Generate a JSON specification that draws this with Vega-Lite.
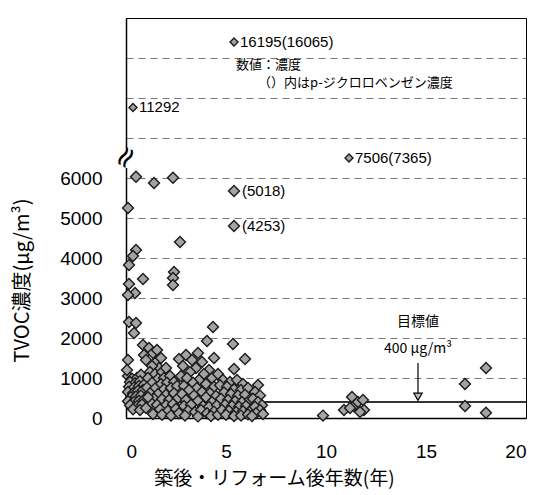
{
  "$schema": "https://vega.github.io/schema/vega-lite/v6.json",
  "width": 400,
  "height": 400,
  "autosize": {"type": "none"},
  "padding": {"left": 126, "top": 18, "right": 18, "bottom": 77},
  "background": "white",
  "config": {"view": {"stroke": "#000", "strokeWidth": 1}},
  "datasets": {
    "pts": [
      {"x":0.5,"y":6100},{"x":1.4,"y":5875},{"x":2.35,"y":6025},{"x":0.1,"y":5250},{"x":5.4,"y":5675},{"x":5.4,"y":4800},{"x":2.7,"y":4400},{"x":0.5,"y":4200},{"x":0.35,"y":4050},{"x":0.15,"y":3825},{"x":0.85,"y":3475},{"x":2.4,"y":3650},{"x":2.35,"y":3500},{"x":2.35,"y":3325},{"x":0.15,"y":3350},{"x":0.45,"y":3125},{"x":0.1,"y":3075},
      {"x":0.15,"y":2400},{"x":0.5,"y":2375},{"x":0.4,"y":2125},{"x":4.35,"y":2275},{"x":4.05,"y":1925},{"x":5.35,"y":1850},{"x":0.1,"y":1450},
      {"x":0.1,"y":1050},{"x":0.3,"y":980},{"x":0.55,"y":1000},{"x":0.75,"y":1080},{"x":0.2,"y":900},{"x":0.45,"y":870},{"x":0.7,"y":920},{"x":0.15,"y":780},{"x":0.4,"y":760},{"x":0.65,"y":800},{"x":0.9,"y":830},{"x":0.1,"y":650},{"x":0.35,"y":620},{"x":0.6,"y":680},{"x":0.85,"y":700},{"x":0.25,"y":520},{"x":0.5,"y":540},{"x":0.75,"y":560},{"x":0.1,"y":420},{"x":0.4,"y":400},{"x":0.65,"y":430},{"x":0.9,"y":460},{"x":0.2,"y":320},{"x":0.55,"y":300},{"x":0.8,"y":340},{"x":0.35,"y":220},{"x":0.7,"y":200},{"x":0.05,"y":1200},
      {"x":0.85,"y":1825},{"x":1.15,"y":1750},{"x":0.9,"y":1575},{"x":1.35,"y":1625},{"x":1.0,"y":1450},{"x":1.5,"y":1400},{"x":1.65,"y":1250},{"x":1.3,"y":1300},{"x":1.75,"y":1500},{"x":1.55,"y":1700},{"x":1.2,"y":1150},{"x":1.45,"y":1100},{"x":1.8,"y":1150},{"x":2.0,"y":1250},{"x":1.1,"y":1000},{"x":1.6,"y":980},{"x":1.9,"y":1000},{"x":2.2,"y":1050},{"x":1.3,"y":880},{"x":1.75,"y":850},{"x":2.05,"y":880},{"x":2.4,"y":900},{"x":1.05,"y":760},{"x":1.45,"y":740},{"x":1.9,"y":720},{"x":2.25,"y":750},{"x":2.55,"y":800},{"x":1.2,"y":620},{"x":1.6,"y":600},{"x":2.0,"y":580},{"x":2.4,"y":620},{"x":1.4,"y":480},{"x":1.8,"y":470},{"x":2.15,"y":450},{"x":2.6,"y":500},{"x":1.25,"y":380},{"x":1.55,"y":330},{"x":2.0,"y":320},{"x":2.35,"y":350},{"x":1.7,"y":220},{"x":2.1,"y":180},{"x":2.5,"y":230},{"x":1.35,"y":100},{"x":1.8,"y":80},{"x":2.25,"y":60},{"x":2.65,"y":120},{"x":1.0,"y":250},{"x":1.1,"y":520},
      {"x":2.65,"y":1475},{"x":3.0,"y":1575},{"x":3.6,"y":1625},{"x":3.3,"y":1450},{"x":3.8,"y":1400},{"x":2.85,"y":1300},{"x":3.5,"y":1250},{"x":4.15,"y":1200},{"x":3.2,"y":1150},{"x":3.9,"y":1100},{"x":2.75,"y":1050},{"x":3.05,"y":1000},{"x":3.65,"y":950},{"x":4.3,"y":1000},{"x":3.35,"y":880},{"x":4.0,"y":850},{"x":2.9,"y":800},{"x":3.55,"y":750},{"x":4.4,"y":780},{"x":3.15,"y":700},{"x":3.8,"y":650},{"x":4.2,"y":620},{"x":2.8,"y":600},{"x":3.4,"y":560},{"x":4.0,"y":520},{"x":4.5,"y":550},{"x":3.0,"y":450},{"x":3.6,"y":430},{"x":4.3,"y":400},{"x":2.9,"y":300},{"x":3.25,"y":330},{"x":3.85,"y":300},{"x":4.15,"y":280},{"x":4.55,"y":320},{"x":3.1,"y":180},{"x":3.45,"y":150},{"x":3.75,"y":200},{"x":4.05,"y":120},{"x":4.4,"y":160},{"x":2.95,"y":60},{"x":3.6,"y":40},{"x":4.25,"y":50},{"x":4.6,"y":80},
      {"x":4.4,"y":1500},{"x":5.95,"y":1475},{"x":5.4,"y":1225},{"x":4.6,"y":1100},{"x":4.85,"y":950},{"x":5.2,"y":900},{"x":5.55,"y":950},{"x":5.85,"y":850},{"x":4.7,"y":820},{"x":5.05,"y":780},{"x":5.4,"y":720},{"x":5.75,"y":700},{"x":6.1,"y":750},{"x":4.9,"y":640},{"x":5.25,"y":600},{"x":5.6,"y":560},{"x":5.95,"y":580},{"x":4.75,"y":480},{"x":5.1,"y":450},{"x":5.45,"y":420},{"x":5.8,"y":400},{"x":6.2,"y":460},{"x":4.95,"y":330},{"x":5.3,"y":300},{"x":5.65,"y":280},{"x":6.0,"y":300},{"x":4.8,"y":200},{"x":5.15,"y":180},{"x":5.5,"y":150},{"x":5.85,"y":170},{"x":6.25,"y":200},{"x":5.0,"y":80},{"x":5.4,"y":50},{"x":5.75,"y":60},{"x":6.1,"y":90},
      {"x":6.6,"y":825},{"x":6.45,"y":650},{"x":6.7,"y":560},{"x":6.35,"y":480},{"x":6.6,"y":400},{"x":6.8,"y":320},{"x":6.45,"y":280},{"x":6.7,"y":200},{"x":6.5,"y":120},{"x":6.85,"y":100},{"x":6.3,"y":50},
      {"x":9.85,"y":60},{"x":10.9,"y":200},{"x":11.3,"y":525},{"x":11.4,"y":300},{"x":11.6,"y":400},{"x":11.85,"y":450},{"x":11.9,"y":200},{"x":11.7,"y":150},{"x":11.2,"y":250},
      {"x":16.95,"y":850},{"x":16.95,"y":300},{"x":18.0,"y":1250},{"x":18.0,"y":130}
    ],
    "big": [
      {"x":5.4,"y":16195,"label":"16195(16065)"},
      {"x":0.35,"y":11292,"label":"11292"},
      {"x":11.15,"y":7506,"label":"7506(7365)"}
    ],
    "pdcb": [
      {"x":5.4,"y":5675,"label":"(5018)"},
      {"x":5.4,"y":4800,"label":"(4253)"}
    ],
    "note": [
      {"x":5.5,"y":14450,"label":"数値：濃度"},
      {"x":6.6,"y":13100,"label":"（）内はp-ジクロロベンゼン濃度"}
    ],
    "target": [
      {"x":14.6,"y":2400,"label":"目標値"},
      {"x":14.6,"y":1725,"label":"400 μg/m³"}
    ]
  },
  "encoding": {
    "x": {
      "field": "x", "type": "quantitative",
      "scale": {"domain": [0, 20], "nice": false, "zero": false},
      "axis": {
        "values": [0, 5, 10, 15, 20], "grid": false, "ticks": false,
        "domainColor": "#000", "domainWidth": 1.5,
        "labelFont": "Liberation Sans", "labelFontSize": 19, "labelColor": "#000", "labelPadding": 24,
        "title": "築後・リフォーム後年数(年)", "titleFont": "Noto Sans CJK JP", "titleFontSize": 19, "titleFontWeight": "normal", "titleColor": "#000",
        "titleX": 148, "titleY": 60, "titleAlign": "center", "titleBaseline": "middle"
      }
    },
    "y": {
      "field": "y", "type": "quantitative",
      "scale": {"domain": [0, 6000, 18000], "range": [400, 160, 0], "nice": false, "zero": false},
      "axis": {
        "values": [0, 1000, 2000, 3000, 4000, 5000, 6000, 9000, 12000, 15000],
        "labelExpr": "datum.value > 6000 ? '' : datum.label", "format": "d",
        "grid": true, "gridDash": [7, 5], "gridColor": "#777", "gridWidth": 1, "ticks": false,
        "domainColor": "#000", "domainWidth": 1.5,
        "labelFont": "Liberation Sans", "labelFontSize": 19, "labelColor": "#000", "labelPadding": 24,
        "title": "TVOC濃度(μg/m³)", "titleFont": "Noto Sans CJK JP", "titleFontSize": 20, "titleFontWeight": "normal", "titleColor": "#000",
        "titleX": -104, "titleY": 262, "titleAlign": "center", "titleBaseline": "middle"
      }
    }
  },
  "layer": [
    {
      "data": {"values": [{"x": 0, "y": 6750, "y2": 8325}]},
      "mark": {"type": "rule", "color": "white", "strokeWidth": 5},
      "encoding": {"y2": {"field": "y2"}}
    },
    {
      "data": {"values": [{"x": 0, "y": 7550, "label": "≈"}]},
      "mark": {"type": "text", "font": "DejaVu Sans", "fontSize": 30, "angle": 300, "color": "#000"},
      "encoding": {"text": {"field": "label"}}
    },
    {
      "data": {"values": [{"x": 0, "x2": 20, "y": 400}]},
      "mark": {"type": "rule", "color": "#333", "strokeWidth": 2},
      "encoding": {"x2": {"field": "x2"}}
    },
    {
      "data": {"values": [{"x": 14.6, "y": 1375, "y2": 560}]},
      "mark": {"type": "rule", "color": "#000", "strokeWidth": 1.2},
      "encoding": {"y2": {"field": "y2"}}
    },
    {
      "data": {"values": [{"x": 14.6, "y": 530}]},
      "mark": {"type": "point", "shape": "triangle-down", "size": 70, "filled": true, "fill": "#bbb", "stroke": "#000", "strokeWidth": 1.2, "opacity": 1},
      "encoding": {}
    },
    {
      "data": {"name": "pts"},
      "mark": {"type": "point", "shape": "diamond", "size": 120, "filled": true, "fill": "#a3a3a3", "stroke": "#1a1a1a", "strokeWidth": 1.4, "opacity": 1},
      "encoding": {}
    },
    {
      "data": {"name": "big"},
      "mark": {"type": "point", "shape": "diamond", "size": 64, "filled": true, "fill": "#a3a3a3", "stroke": "#1a1a1a", "strokeWidth": 1.4, "opacity": 1},
      "encoding": {}
    },
    {
      "data": {"name": "big"},
      "mark": {"type": "text", "align": "left", "baseline": "middle", "dx": 6, "font": "Liberation Sans", "fontSize": 15, "color": "#000"},
      "encoding": {"text": {"field": "label"}}
    },
    {
      "data": {"name": "pdcb"},
      "mark": {"type": "text", "align": "left", "baseline": "middle", "dx": 8, "font": "Liberation Sans", "fontSize": 15, "color": "#000"},
      "encoding": {"text": {"field": "label"}}
    },
    {
      "data": {"name": "note"},
      "mark": {"type": "text", "align": "left", "baseline": "middle", "font": "Noto Sans CJK JP", "fontSize": 13, "color": "#000"},
      "encoding": {"text": {"field": "label"}}
    },
    {
      "data": {"name": "target"},
      "mark": {"type": "text", "align": "center", "baseline": "middle", "font": "Noto Sans CJK JP", "fontSize": 14, "color": "#000"},
      "encoding": {"text": {"field": "label"}}
    }
  ]
}
